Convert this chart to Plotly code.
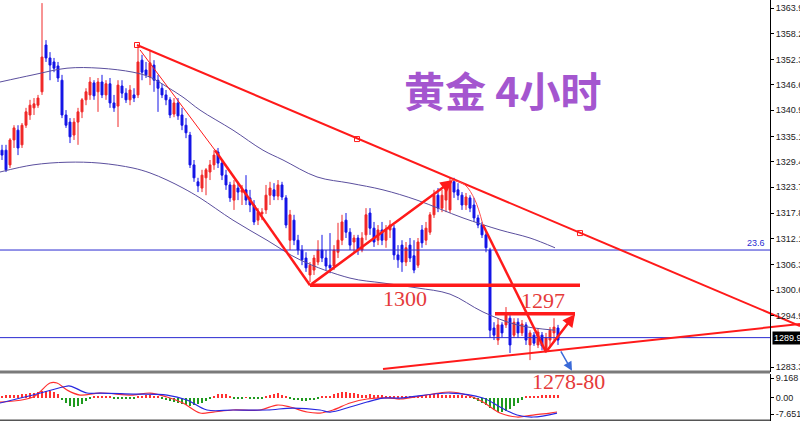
import plotly.graph_objects as go

# ---------------- data ----------------
opens = [1332.0,1332.0,1328.7,1334.3,1336.5,1333.2,1337.6,1339.9,1341.5,1342.1,
         1345.1,1355.6,1352.7,1351.8,1350.9,1347.7,1339.9,1338.3,1335.4,1338.3,
         1340.6,1343.3,1344.4,1347.1,1345.1,1347.3,1344.4,1346.9,1342.6,1341.9,
         1346.4,1344.8,1343.3,1344.4,1344.4,1352.2,1350.0,1348.4,1351.1,1347.7,
         1345.9,1344.4,1343.3,1340.1,1342.6,1339.9,1337.6,1335.4,1328.7,1324.9,
         1323.5,1325.8,1327.1,1328.7,1331.6,1329.1,1326.4,1324.2,1320.8,1323.5,
         1322.6,1323.1,1321.3,1319.7,1316.3,1317.7,1318.6,1321.9,1323.1,1321.7,
         1324.2,1321.3,1311.8,1316.3,1311.8,1309.6,1307.8,1304.0,1305.1,1306.9,
         1309.6,1307.8,1306.2,1306.0,1309.1,1311.8,1316.3,1313.6,1311.4,1312.3,
         1309.6,1313.0,1317.9,1314.5,1311.8,1314.1,1311.8,1314.1,1314.5,1308.5,
         1310.7,1306.9,1310.7,1308.3,1306.2,1314.1,1311.8,1313.6,1317.5,1321.9,
         1319.0,1320.8,1318.6,1324.9,1323.1,1321.9,1319.7,1321.3,1319.7,1316.8,
         1315.2,1313.0,1309.6,1292.1,1289.4,1292.8,1292.8,1294.3,1290.5,1293.4,
         1291.0,1292.8,1288.3,1290.5,1288.3,1290.5,1287.1,1289.4,1291.0,1292.1]
highs = [1333.2,1333.2,1334.7,1337.6,1337.6,1338.1,1341.5,1343.3,1343.7,1344.4,
         1365.0,1356.7,1354.0,1352.7,1351.8,1348.9,1341.0,1339.2,1339.2,1341.5,
         1343.7,1345.9,1348.4,1347.7,1348.2,1348.9,1347.7,1348.2,1344.4,1347.7,
         1347.7,1345.9,1346.6,1345.9,1355.6,1353.4,1351.8,1354.5,1352.2,1348.9,
         1346.9,1345.5,1343.9,1343.7,1343.7,1341.5,1339.2,1336.1,1329.8,1325.8,
         1327.6,1328.0,1329.8,1332.0,1332.5,1329.8,1327.6,1324.9,1325.3,1324.9,
         1324.2,1326.4,1323.1,1320.8,1319.0,1319.0,1324.2,1324.9,1324.6,1325.3,
         1324.9,1321.9,1318.6,1317.5,1313.0,1310.7,1309.1,1306.9,1308.5,1311.8,
         1313.0,1309.6,1313.4,1310.7,1315.7,1317.5,1317.9,1314.5,1313.0,1313.0,
         1313.6,1319.0,1319.0,1315.9,1315.2,1315.9,1315.2,1316.3,1315.2,1310.7,
         1311.8,1311.4,1312.3,1311.8,1312.3,1315.2,1315.9,1318.1,1323.1,1323.5,
         1323.1,1324.2,1325.8,1325.8,1324.6,1322.6,1322.4,1321.9,1321.3,1317.5,
         1315.9,1313.6,1310.1,1293.4,1294.3,1293.4,1296.8,1295.0,1294.3,1294.3,
         1293.9,1293.4,1291.6,1291.2,1292.1,1291.2,1291.0,1292.3,1294.3,1292.8]
lows = [1329.8,1327.1,1328.0,1332.5,1330.9,1332.5,1337.0,1338.8,1339.9,1341.5,
        1344.4,1351.8,1347.7,1349.5,1347.3,1339.2,1337.0,1333.6,1334.3,1333.2,
        1339.2,1342.1,1343.3,1343.3,1340.6,1343.7,1343.3,1341.5,1340.6,1337.2,
        1343.7,1342.6,1342.1,1342.8,1343.7,1347.7,1348.2,1346.6,1345.1,1340.6,
        1343.7,1342.1,1339.2,1339.4,1338.8,1336.5,1334.7,1328.0,1324.9,1322.6,
        1322.6,1321.9,1325.3,1327.6,1328.0,1325.3,1323.1,1320.4,1318.6,1320.8,
        1319.7,1319.7,1318.1,1315.2,1315.2,1316.3,1317.7,1319.7,1320.8,1320.8,
        1320.8,1314.5,1309.6,1310.7,1308.5,1306.2,1304.7,1302.4,1304.0,1306.2,
        1306.9,1305.1,1304.4,1305.1,1307.8,1310.7,1312.3,1309.6,1309.1,1308.5,
        1309.1,1311.8,1313.0,1310.3,1310.7,1310.7,1310.1,1312.3,1307.4,1305.6,
        1304.7,1306.0,1306.9,1304.4,1305.6,1310.1,1310.7,1313.0,1316.8,1318.1,
        1318.1,1318.1,1317.9,1321.3,1320.8,1318.6,1318.6,1318.1,1315.9,1314.5,
        1312.3,1309.1,1289.9,1289.4,1288.3,1289.9,1292.1,1286.5,1289.9,1289.9,
        1290.3,1288.3,1284.9,1288.1,1287.6,1287.1,1286.5,1287.8,1289.4,1288.3]
closes = [1330.9,1327.6,1334.3,1337.0,1332.5,1337.6,1340.6,1342.1,1342.4,1343.7,
          1352.9,1352.7,1351.1,1350.4,1348.2,1339.9,1337.6,1335.0,1338.3,1340.6,
          1343.3,1345.1,1347.3,1344.2,1347.3,1344.4,1346.9,1342.6,1341.5,1346.6,
          1344.8,1343.3,1345.5,1343.7,1351.8,1349.5,1348.9,1351.6,1347.7,1345.9,
          1344.4,1343.3,1339.9,1342.6,1339.7,1337.6,1335.9,1328.7,1325.8,1324.0,
          1326.4,1327.6,1328.7,1330.9,1329.1,1326.4,1324.2,1321.3,1324.2,1322.6,
          1323.1,1320.8,1319.7,1315.9,1318.1,1318.1,1321.9,1323.5,1321.7,1324.2,
          1321.5,1315.2,1317.5,1311.8,1309.6,1307.4,1305.6,1306.2,1307.8,1309.6,
          1307.8,1306.0,1305.6,1309.6,1311.8,1315.9,1313.6,1310.7,1312.3,1309.6,
          1312.3,1317.5,1314.5,1311.4,1314.1,1311.8,1314.1,1315.2,1308.5,1307.4,
          1306.9,1310.1,1307.8,1305.1,1311.4,1311.2,1314.5,1317.5,1321.9,1319.0,
          1321.9,1323.5,1324.9,1322.6,1321.9,1319.7,1321.5,1319.0,1316.8,1315.2,
          1313.0,1310.1,1291.6,1290.5,1292.8,1291.0,1295.0,1288.3,1293.4,1291.0,
          1293.0,1289.4,1291.0,1288.7,1291.2,1288.1,1289.9,1291.6,1292.3,1289.4]
bars = list(range(len(closes)))

# envelope bands (bar index, price)
upper_idx = [-0.5, 7.75, 16.25, 24.5, 32.75, 37, 41.25, 45.25, 49.5, 57.75, 65.25, 70.25,
             78.75, 87, 95.25, 103.75, 115.25, 124.5, 132, 138.25]
upper_val = [1347.3, 1348.9, 1350.4, 1350.4, 1349.5, 1348.4, 1346.2, 1343.9, 1341.0, 1336.5,
             1332.0, 1329.8, 1326.0, 1324.6, 1323.1, 1320.8, 1316.8, 1314.1, 1312.3, 1310.1]
lower_idx = [-0.5, 7.75, 16.25, 24.5, 32.75, 37, 41.25, 45.25, 49.5, 57.75, 66.25, 74.5,
             87, 95.25, 103.75, 112, 120.25, 128.75, 138.25]
lower_val = [1327.1, 1328.7, 1329.3, 1329.1, 1328.0, 1326.9, 1325.3, 1323.5, 1321.3, 1316.3,
             1311.8, 1307.4, 1303.3, 1302.2, 1301.1, 1299.7, 1295.7, 1292.8, 1291.6]

# MACD panel
macd_idx = [-0.5, 7.75, 12, 13.75, 16.25, 19.5, 24.5, 32.75, 37, 41.25, 45.25, 49.5, 52.75,
            57.75, 64.5, 68.75, 72, 76.25, 79.5, 82.75, 87, 91.25, 97, 99.5, 112, 116.25,
            120.25, 124.5, 128.75, 132.75, 137, 138.75]
macd_val = [-2.06, 0.28, 6.82, 6.82, 3.55, 1.21, 2.15, 1.21, 2.15, 0.28, -2.52, -7.20, -6.73,
            -5.79, -5.79, -3.46, -4.39, -6.73, -7.20, -5.79, -2.52, -0.65, -0.19, -0.65, 2.62,
            1.21, -2.06, -7.20, -9.06, -8.13, -7.20, -6.73]
signal_idx = [-0.5, 7.75, 15.25, 17, 21.25, 24.5, 32.75, 41.25, 46.25, 51.25, 57.75, 66.25,
              72.75, 79.5, 82, 87, 91.25, 95.25, 99.5, 112, 120.25, 124.5, 128.75, 132.75, 138.75]
signal_val = [-2.52, 1.21, 4.95, 5.42, 2.15, 2.15, 1.68, 1.21, -1.12, -5.79, -5.79, -5.79,
              -4.86, -5.79, -6.73, -4.39, -2.06, -0.19, -0.19, 2.15, -0.19, -4.39, -8.13, -9.06, -7.20]
hist_val = [0.8,1.0,1.2,1.2,1.4,1.6,1.8,2.0,2.3,2.6,2.9,3.2,3.0,2.5,1.6,
            -1.0,-2.5,-3.8,-4.2,-3.8,-3.0,-1.8,
            -0.6,0.3,
            0.5,0.6,0.5,0.4,
            -0.4,-0.5,-0.5,-0.4,-0.4,-0.3,
            0.5,0.8,1.0,1.0,0.8,0.4,
            -0.5,-1.0,-1.5,-2.0,-2.6,-3.0,-3.4,-3.7,-3.6,-3.2,-2.5,-1.6,-0.6,
            0.8,1.6,1.9,1.5,0.8,
            -0.4,-0.5,-0.3,0.2,
            -0.5,-0.6,-0.6,-0.4,0.3,
            1.2,1.8,2.0,1.2,
            0.3,-0.5,
            -1.0,-1.3,-1.5,-1.5,-1.3,-1.0,-0.5,
            0.3,0.6,0.9,
            1.6,2.2,2.6,2.6,2.3,2.0,1.6,1.2,
            1.4,1.5,1.4,1.2,1.0,0.8,0.6,0.5,0.4,
            0.3,0.3,0.4,0.6,0.8,1.0,1.2,1.4,1.5,1.5,1.4,1.3,
            1.2,1.2,1.1,1.0,0.8,0.5,
            -0.6,-1.5,-2.5,-3.6,-4.8,-5.8,-6.5,-6.7,-6.2,-5.2,-3.8,-2.3,-0.9,
            0.4,0.6,0.8,0.9,1.0,1.0,1.1,1.1,1.0]

# drawn analysis lines (bar index, price)
down_trend_idx = [33.75, 199.5]
down_trend_val = [1355.6, 1292.55]
trend_marks_idx = [33.75, 88.75, 144.5]
trend_marks_val = [1355.6, 1334.5, 1313.4]
support_idx = [95.25, 199.5]
support_val = [1282.9, 1293.0]
thin_leg_idx = [34.5, 53.25]
thin_leg_val = [1354.5, 1332.0]
leg1_idx = [53.25, 77]
leg1_val = [1332.0, 1301.7]
level_1300_idx = [77, 144.5]
level_1300_val = [1301.7, 1301.7]
curve_idx = [112.75, 115.75, 118.25, 120.25]
curve_val = [1325.3, 1324.2, 1320.8, 1315.2]
leg3_idx = [120.25, 136]
leg3_val = [1315.2, 1286.7]
level_1297_idx = [123.25, 143.25]
level_1297_val = [1295.3, 1295.3]
fib_level = 1309.6
price_line = 1289.94

price_ticks = [1363.90, 1358.20, 1352.35, 1346.65, 1340.95, 1335.10, 1329.40, 1323.70,
               1317.85, 1312.15, 1306.30, 1300.60, 1294.90, 1283.35]
macd_ticks = [9.168, 0.0, -7.651]
macd_tick_text = ["9.168", "0.00", "-7.651"]

RED = "#f02828"
BLUE_C = "#1414e6"
BAND = "#5b4f9e"
AX_POS = 770 / 800

fig = go.Figure()

fig.add_trace(go.Scatter(x=upper_idx, y=upper_val, mode="lines", line=dict(color=BAND, width=1, shape="spline"),
                         xaxis="x", yaxis="y", hoverinfo="skip"))
fig.add_trace(go.Scatter(x=lower_idx, y=lower_val, mode="lines", line=dict(color=BAND, width=1, shape="spline"),
                         xaxis="x", yaxis="y", hoverinfo="skip"))

# horizontal blue lines
fig.add_trace(go.Scatter(x=[-0.5, 192], y=[fib_level, fib_level], mode="lines",
                         line=dict(color="#2a2ad0", width=1), xaxis="x", yaxis="y"))
fig.add_trace(go.Scatter(x=[-0.5, 192], y=[price_line, price_line], mode="lines",
                         line=dict(color="#2a2ad0", width=1), xaxis="x", yaxis="y"))

fig.add_trace(go.Candlestick(
    x=bars, open=opens, high=highs, low=lows, close=closes,
    increasing=dict(line=dict(color=RED, width=1), fillcolor=RED),
    decreasing=dict(line=dict(color=BLUE_C, width=1), fillcolor=BLUE_C),
    whiskerwidth=0, xaxis="x", yaxis="y"))

def red_line(xs, ys, w):
    fig.add_trace(go.Scatter(x=xs, y=ys, mode="lines", line=dict(color="#ff1a1a", width=w),
                             xaxis="x", yaxis="y", hoverinfo="skip"))

red_line(down_trend_idx, down_trend_val, 2)
red_line(support_idx, support_val, 2)
red_line(thin_leg_idx, thin_leg_val, 1)
red_line(leg1_idx, leg1_val, 2.5)
red_line(level_1300_idx, level_1300_val, 3.5)
fig.add_trace(go.Scatter(x=curve_idx, y=curve_val, mode="lines",
                         line=dict(color="#ff5050", width=1, shape="spline"), xaxis="x", yaxis="y"))
red_line(leg3_idx, leg3_val, 2.5)
red_line(level_1297_idx, level_1297_val, 3.5)
fig.add_trace(go.Scatter(x=trend_marks_idx, y=trend_marks_val, mode="markers",
                         marker=dict(symbol="square-open", size=5, color="#ff1a1a", line=dict(width=1)),
                         xaxis="x", yaxis="y"))

# MACD
fig.add_trace(go.Bar(x=bars, y=hist_val, width=0.3,
                     marker=dict(color=["#ff3030" if v >= 0 else "#1f9a1f" for v in hist_val], line=dict(width=0)),
                     xaxis="x2", yaxis="y2"))
fig.add_trace(go.Scatter(x=macd_idx, y=macd_val, mode="lines", line=dict(color="#ff3030", width=1.2, shape="spline"),
                         xaxis="x2", yaxis="y2"))
fig.add_trace(go.Scatter(x=signal_idx, y=signal_val, mode="lines", line=dict(color="#2828e0", width=1.2, shape="spline"),
                         xaxis="x2", yaxis="y2"))

main_dom = [49 / 421, 1]
macd_dom = [0, 47 / 421]

tickfont = dict(family="Liberation Sans Narrow, Liberation Sans, Arial", size=9, color="#222")

fig.update_layout(
    width=800, height=421, autosize=False, margin=dict(l=0, r=0, t=0, b=0, pad=0),
    paper_bgcolor="white", plot_bgcolor="white", showlegend=False, bargap=0,
    xaxis=dict(domain=[0, 1], range=[-0.5, 199.5], visible=False, rangeslider=dict(visible=False),
               anchor="y", showgrid=False, automargin=False),
    xaxis2=dict(domain=[0, 1], range=[-0.5, 199.5], visible=False, anchor="y2", matches="x",
                showgrid=False, automargin=False),
    yaxis=dict(domain=main_dom, range=[1282.23, 1365.7], anchor="free", position=AX_POS, side="right",
               showgrid=False, zeroline=False, showline=True, linecolor="black", linewidth=1,
               ticks="outside", ticklen=3, tickcolor="black", tickvals=price_ticks, automargin=False,
               ticktext=[f"{v:.2f}" for v in price_ticks], tickfont=tickfont),
    yaxis2=dict(domain=macd_dom, range=[-10.92, 11.04], anchor="free", position=AX_POS, side="right",
                showgrid=False, zeroline=False, showline=True, linecolor="black", linewidth=1,
                ticks="outside", ticklen=3, tickcolor="black", tickvals=macd_ticks, automargin=False,
                ticktext=macd_tick_text, tickfont=tickfont),
)

# panel separators
fig.add_shape(type="line", xref="paper", yref="paper", x0=0, x1=AX_POS, y0=49 / 421, y1=49 / 421,
              line=dict(color="#7a7a7a", width=3))
fig.add_shape(type="line", xref="paper", yref="paper", x0=0, x1=AX_POS, y0=0.002, y1=0.002,
              line=dict(color="#555", width=1.5))

# arrows
fig.add_annotation(x=112.75, y=1325.3, ax=77, ay=1301.7, xref="x", yref="y", axref="x", ayref="y",
                   showarrow=True, arrowhead=2, arrowsize=1, arrowwidth=2.5, arrowcolor="#ff1a1a", text="")
fig.add_annotation(x=143.25, y=1295.2, ax=136, ay=1286.7, xref="x", yref="y", axref="x", ayref="y",
                   showarrow=True, arrowhead=2, arrowsize=1, arrowwidth=2.5, arrowcolor="#ff1a1a", text="")
fig.add_annotation(x=142.5, y=1282.5, ax=139.5, ay=1287.2, xref="x", yref="y", axref="x", ayref="y",
                   showarrow=True, arrowhead=2, arrowsize=1.2, arrowwidth=1.5, arrowcolor="#3a6ad8", text="")

# texts
serif = "Liberation Serif, Times New Roman, serif"
fig.add_annotation(x=100.75, y=1298.8, xref="x", yref="y", text="1300", showarrow=False,
                   xanchor="center", yanchor="middle",
                   font=dict(family=serif, size=22, color="#e53a3a"))
fig.add_annotation(x=135.25, y=1298.2, xref="x", yref="y", text="1297", showarrow=False,
                   xanchor="center", yanchor="middle",
                   font=dict(family=serif, size=22, color="#e53a3a"))
fig.add_annotation(x=568 / 800, y=(421 - 381) / 421, xref="paper", yref="paper", text="1278-80",
                   xanchor="center", yanchor="middle",
                   showarrow=False, font=dict(family=serif, size=22, color="#e53a3a"))
fig.add_annotation(x=503 / 800, y=(421 - 89) / 421, xref="paper", yref="paper", text="<b>黄金 4小时</b>",
                   xanchor="center", yanchor="middle",
                   showarrow=False, font=dict(family="Noto Sans CJK SC", size=41, color="#a456cf"))
fig.add_annotation(x=767 / 800, y=fib_level, xref="paper", yref="y", text="23.6", xanchor="right",
                   yanchor="bottom", showarrow=False, font=dict(family="Liberation Sans", size=9, color="#2a2ad0"))
fig.add_annotation(x=772 / 800, y=price_line, xref="paper", yref="y", text="1289.94", xanchor="left",
                   yanchor="middle", showarrow=False, bgcolor="black", borderpad=1,
                   font=dict(family="Liberation Sans Narrow, Liberation Sans", size=9, color="white"))

fig.write_html(
    "out.html",
    config={"displayModeBar": False, "responsive": False},
    post_script="document.body.style.margin='0px';document.body.style.overflow='hidden';",
)
